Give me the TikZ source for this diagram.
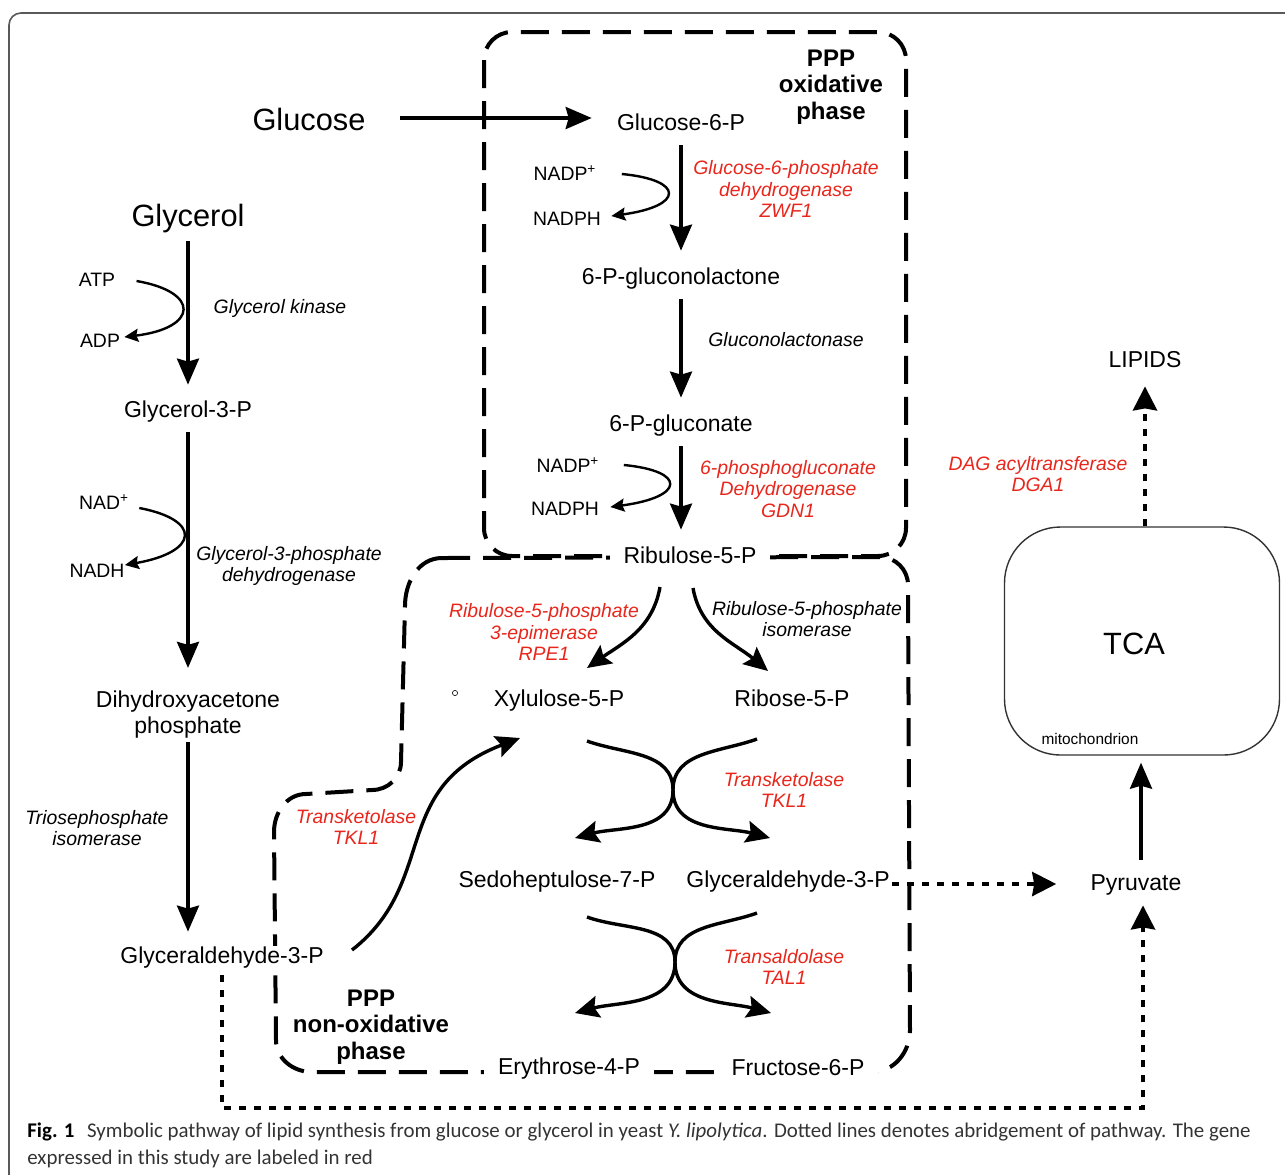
\documentclass[tikz,border=0pt]{standalone}
\usepackage{fontspec}
\setmainfont{Liberation Sans}
\newfontfamily\capfont{Carlito}
\usetikzlibrary{arrows.meta}
\definecolor{genered}{RGB}{232,38,28}

\begin{document}
\begin{tikzpicture}[x=0.5pt,y=-0.5pt]
  \tikzset{
    metabtwo/.style={inner sep=0pt, align=center, font=\fontsize{11.5}{13}\selectfont},
    metab/.style={metabtwo, text height=8.5pt, text depth=2.5pt},
    big/.style={inner sep=0pt, text height=11.5pt, text depth=3.3pt, font=\fontsize{15.4}{18}\selectfont},
    cofac/.style={inner sep=0pt, font=\fontsize{9.7}{11}\selectfont},
    enzyme/.style={inner sep=0pt, align=center, font=\fontsize{9.7}{10.8}\selectfont\itshape},
    gene/.style={enzyme, text=genered},
    phase/.style={inner sep=0pt, align=center, font=\fontsize{12}{13.3}\selectfont\bfseries},
    mainarrow/.style={line width=1.7pt, -{Stealth[length=13pt,width=11pt,inset=1.5pt]}},
    bendarrow/.style={line width=1.7pt, -{Stealth[length=12pt,width=11pt,inset=2pt]}},
    cofarrow/.style={line width=1.2pt, -{Stealth[length=7pt,width=6.5pt,inset=1pt]}},
    dotline/.style={line width=2pt, dash pattern=on 3.5pt off 4pt, -{Stealth[length=12pt,width=12pt,inset=1pt]}},
    phasebox/.style={line width=2pt, dash pattern=on 14pt off 6.5pt}
  }

  \useasboundingbox (0,0) rectangle (1285,1174);
  \clip (0,0) rectangle (1285,1174);
  \draw[line width=0.8pt, draw=black!65, rounded corners=6pt] (9,13) rectangle (1330,1230);

  \draw[phasebox, rounded corners=14pt] (484,32) rectangle (906,556);
  \draw[phasebox] (442,558) -- (880,557) to[out=0,in=90] (908,585) -- (910,1030)
    to[out=-90,in=0] (872,1072) -- (312,1072) to[out=180,in=-90] (276,1040)
    -- (274,832) to[out=90,in=180] (306,794) -- (372,790) to[out=0,in=-90] (401,762)
    -- (405,606) to[out=90,in=180] (442,558);

  \node[big] (glc) at (309,122) {Glucose};
  \node[metab] (g6p) at (681,124) {Glucose-6-P};
  \node[phase] (oxlab) at (831,87) {PPP\\oxidative\\phase};
  \node[cofac] (nadpa) at (565,173) {NADP\textsuperscript{+}};
  \node[cofac] (nadpha) at (567,219) {NADPH};
  \node[gene] (zwf) at (786,189) {Glucose-6-phosphate\\dehydrogenase\\ZWF1};
  \node[metab] (pgl) at (681,278) {6-P-gluconolactone};
  \node[enzyme] (lac) at (786,340) {Gluconolactonase};
  \node[metab] (pg) at (681,425) {6-P-gluconate};
  \node[cofac] (nadpb) at (568,465) {NADP\textsuperscript{+}};
  \node[cofac] (nadphb) at (565,509) {NADPH};
  \node[gene] (gdn) at (788,489) {6-phosphogluconate\\Dehydrogenase\\GDN1};
  \node[metab, fill=white, inner xsep=7pt] (ru5p) at (690,557) {Ribulose-5-P};
  \node[gene] (rpe) at (544,632) {Ribulose-5-phosphate\\3-epimerase\\RPE1};
  \node[enzyme] (rpi) at (807,619) {Ribulose-5-phosphate\\isomerase};
  \node[metab] (xu5p) at (559,700) {Xylulose-5-P};
  \node[metab] (r5p) at (792,700) {Ribose-5-P};
  \node[draw, circle, inner sep=0pt, minimum size=2.6pt, line width=0.3pt] (speck) at (455,693) {};
  \coordinate (tkx) at (673,790);
  \node[gene] (tkla) at (784,790) {Transketolase\\TKL1};
  \node[gene] (tklb) at (356,827) {Transketolase\\TKL1};
  \node[metab] (s7p) at (557,881) {Sedoheptulose-7-P};
  \node[metab] (ga3pr) at (788,881) {Glyceraldehyde-3-P};
  \coordinate (tax) at (675,962);
  \node[gene] (tal) at (784,967) {Transaldolase\\TAL1};
  \node[metab, fill=white, inner xsep=7pt] (e4p) at (569,1068) {Erythrose-4-P};
  \node[metab, fill=white, inner xsep=7pt] (f6p) at (798,1069) {Fructose-6-P};
  \node[phase] (nonoxlab) at (371,1027) {PPP\\non-oxidative\\phase};

  \node[big] (gly) at (188,218) {Glycerol};
  \node[cofac] (atp) at (97,280) {ATP};
  \node[cofac] (adp) at (100,341) {ADP};
  \node[enzyme] (gk) at (280,308) {Glycerol kinase};
  \node[metab] (g3p) at (188,411) {Glycerol-3-P};
  \node[cofac] (nad) at (104,502) {NAD\textsuperscript{+}};
  \node[cofac] (nadh) at (97,571) {NADH};
  \node[enzyme] (gpd) at (289,566) {Glycerol-3-phosphate\\dehydrogenase};
  \node[metabtwo] (dhap) at (188,715) {Dihydroxyacetone\\phosphate};
  \node[enzyme] (tpi) at (97,828) {Triosephosphate\\isomerase};
  \node[metab, fill=white] (ga3pl) at (222,957) {Glyceraldehyde-3-P};

  \node[metab] (lipids) at (1145,361) {LIPIDS};
  \node[gene] (dga) at (1038,474) {DAG acyltransferase\\DGA1};
  \node[draw=black!80, line width=0.7pt, rounded corners=28pt, minimum width=137.5pt, minimum height=114pt] (tcabox) at (1142,641) {};
  \node[big] (tca) at (1134,646) {TCA};
  \node[inner sep=0pt, font=\fontsize{7.7}{9}\selectfont] (mito) at (1090,739) {mitochondrion};
  \node[metab] (pyr) at (1136,884) {Pyruvate};

  \node[anchor=base west, inner sep=0pt, align=left, text=black!80, font=\capfont\fontsize{10.45}{13.5}\selectfont] (caption) at (27,1164)
    {\textcolor{black}{\textbf{Fig. 1}}\hspace{0.6em}Symbolic pathway of lipid synthesis from glucose or glycerol in yeast \textit{Y. lipolytica}. Dotted lines denotes abridgement of pathway. The gene\\expressed in this study are labeled in red};

  \draw[mainarrow, shorten <=17pt, shorten >=12.5pt] ([yshift=2pt]glc.east) -- ([yshift=2pt]glc.east -| g6p.west);
  \draw[mainarrow, shorten <=5pt, shorten >=8pt] (g6p) -- (pgl);
  \draw[mainarrow, shorten <=5pt, shorten >=8pt] (pgl) -- (pg);
  \draw[mainarrow, shorten <=5pt, shorten >=8pt] (pg) -- (pg |- ru5p.north);
  \draw[mainarrow, shorten <=4pt, shorten >=7.5pt] (gly) -- (g3p);
  \draw[mainarrow, shorten <=5pt, shorten >=11.5pt] (g3p) -- (dhap);
  \draw[mainarrow, shorten <=1.5pt, shorten >=7pt] (dhap) -- (dhap |- ga3pl.north);
  \draw[mainarrow, shorten <=6.5pt, shorten >=3.5pt] ([xshift=2.5pt]pyr.north) -- ([xshift=2.5pt]pyr.north |- tcabox.south);

  \draw[cofarrow] ([xshift=10.5pt,yshift=-0.5pt]atp.east) .. controls +(64,11) and +(74,-9) .. ([xshift=2pt,yshift=2pt]adp.east);
  \draw[cofarrow] ([xshift=5pt,yshift=-3pt]nad.east) .. controls +(63,12) and +(74,-13) .. ([yshift=3pt]nadh.east);
  \draw[cofarrow] ([xshift=12.5pt,yshift=-0.5pt]nadpa.east) .. controls +(63,6) and +(73,-10) .. ([xshift=5pt,yshift=1.5pt]nadpha.east);
  \draw[cofarrow] ([xshift=12pt]nadpb.east) .. controls +(63,6) and +(75,-10) .. ([xshift=5.5pt,yshift=1pt]nadphb.east);

  \draw[bendarrow] ([xshift=-15pt,yshift=-15pt]ru5p.center) to[out=-100,in=35] ([xshift=14pt,yshift=16pt]xu5p.center);
  \draw[bendarrow] ([xshift=1.5pt,yshift=-15.5pt]ru5p.center) to[out=-80,in=140] ([xshift=-12pt,yshift=14.5pt]r5p.center);
  \draw[bendarrow] ([xshift=14pt,yshift=-20.5pt]xu5p.center) to[out=-20,in=90] (tkx) to[out=-90,in=15] ([xshift=9pt,yshift=21.5pt]s7p.center);
  \draw[bendarrow] ([xshift=-17.5pt,yshift=-19.5pt]r5p.center) to[out=200,in=90] (tkx) to[out=-90,in=165] ([xshift=-9pt,yshift=21.5pt]ga3pr.center);
  \draw[bendarrow] ([xshift=15pt,yshift=-18pt]s7p.center) to[out=-20,in=90] (tax) to[out=-90,in=15] ([xshift=3pt,yshift=27.5pt]e4p.center);
  \draw[bendarrow] ([xshift=-15.5pt,yshift=-16pt]ga3pr.center) to[out=200,in=90] (tax) to[out=-90,in=165] ([xshift=-13.5pt,yshift=28pt]f6p.center);
  \draw[bendarrow] ([xshift=65pt,yshift=3.5pt]ga3pl.center) .. controls +(87,-68) and +(-131,50) .. ([xshift=-19.5pt,yshift=-19pt]xu5p.center);

  \draw[dotline, shorten <=3.5pt, shorten >=5pt] (ga3pl.south) -- ++(0,140) -| ([xshift=3.5pt]pyr.south);
  \draw[dotline, shorten <=1pt, shorten >=17pt] ([yshift=-1.5pt]ga3pr.east) -- ([yshift=-1.5pt]ga3pr.east -| pyr.west);
  \draw[dotline, shorten >=7pt] (lipids |- tcabox.north) -- (lipids);
\end{tikzpicture}
\end{document}
